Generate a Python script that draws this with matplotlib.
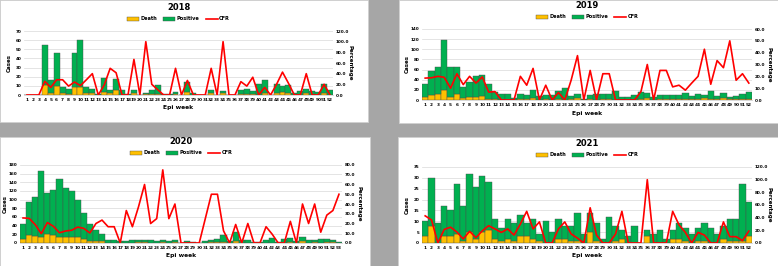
import matplotlib.pyplot as plt
from matplotlib.patches import Rectangle, Patch
from matplotlib.lines import Line2D
import numpy as np

# weekly counts (death, positive) and CFR (%)
death_2018 = [0, 0, 0, 11, 2, 10, 2, 1, 9, 9, 2, 2, 0, 3, 2, 5, 0, 0, 2, 0,
              1, 1, 1, 0, 0, 1, 0, 3, 0, 0, 0, 2, 0, 2, 0, 0, 1, 1, 1, 0,
              2, 0, 2, 3, 2, 0, 0, 2, 0, 0, 2, 0]
positive_2018 = [0, 0, 0, 44, 14, 36, 7, 6, 37, 51, 7, 5, 1, 16, 4, 12, 5, 1, 3, 0,
                 1, 5, 10, 1, 1, 2, 0, 11, 2, 0, 0, 4, 0, 2, 0, 0, 4, 6, 3, 12,
                 14, 0, 10, 7, 9, 2, 4, 5, 4, 3, 10, 5]
cfr_2018 = [0, 0, 0, 25.6, 14.3, 28.6, 28.6, 16.7, 24.3, 17.6, 28.6, 40, 0, 18.8, 50, 41.7, 0, 0, 66.7, 0,
            100, 20, 10, 0, 0, 50, 0, 27.3, 0, 0, 0, 50, 0, 100, 0, 0, 25, 16.7, 33.3, 0,
            14.3, 0, 20, 42.9, 22.2, 0, 0, 40, 0, 0, 20, 0]

death_2019 = [5, 9, 11, 19, 6, 12, 3, 6, 6, 8, 2, 1, 0, 0, 0, 2, 1, 4, 0, 1,
              0, 1, 0, 1, 3, 0, 2, 0, 2, 2, 0, 0, 0, 0, 1, 3, 0, 2, 2, 1,
              1, 1, 1, 2, 3, 2, 2, 3, 2, 1, 2, 2]
positive_2019 = [27, 48, 55, 99, 60, 54, 23, 30, 42, 41, 30, 14, 12, 12, 3, 10, 8, 15, 7, 8,
                 9, 16, 23, 6, 8, 1, 8, 11, 9, 9, 18, 6, 6, 10, 14, 10, 6, 8, 8, 9,
                 8, 12, 7, 10, 7, 15, 6, 11, 4, 6, 9, 14]
cfr_2019 = [18.5, 18.8, 20, 19.2, 10, 22.2, 13, 20, 14.3, 19.5, 6.7, 7.1, 0, 0, 0, 20, 12.5, 26.7, 0, 12.5,
            0, 6.3, 0, 16.7, 37.5, 0, 25, 0, 22.2, 22.2, 0, 0, 0, 0, 7.1, 30, 0, 25, 25, 11.1,
            12.5, 8.3, 14.3, 20, 42.9, 13.3, 33.3, 27.3, 50, 16.7, 22.2, 14.3]

death_2020 = [9, 19, 17, 13, 20, 18, 14, 14, 14, 14, 9, 4, 5, 4, 1, 1, 0, 1, 1, 2,
              3, 1, 1, 3, 1, 2, 0, 0, 0, 0, 1, 2, 3, 2, 0, 4, 0, 1, 0, 0,
              1, 1, 0, 0, 2, 0, 4, 1, 2, 1, 2, 2, 1]
positive_2020 = [35, 75, 90, 153, 95, 105, 133, 114, 107, 86, 60, 39, 25, 17, 6, 6, 5, 3, 6, 5,
                 5, 5, 4, 4, 4, 5, 1, 5, 2, 1, 4, 4, 6, 16, 5, 21, 8, 5, 3, 2,
                 6, 11, 3, 9, 9, 5, 10, 5, 5, 9, 7, 6, 2]
cfr_2020 = [25.7, 25.3, 18.9, 9.6, 21, 17.1, 10.5, 12.3, 13.1, 16.3, 15, 10.3, 20, 23.5, 16.7, 16.7, 0, 33.3, 16.7, 37,
            60, 20, 25, 75, 25, 40, 0, 0, 0, 0, 25, 50, 50, 12.5, 0, 19, 0, 20, 0, 0,
            16.7, 9.1, 0, 0, 22.2, 0, 40, 20, 40, 11.1, 28.6, 33.3, 50]

death_2021 = [3, 8, 0, 3, 3, 4, 1, 5, 2, 5, 6, 2, 1, 2, 1, 3, 3, 2, 1, 0,
              0, 2, 2, 1, 1, 0, 5, 1, 0, 0, 1, 2, 0, 0, 0, 3, 0, 0, 0, 2,
              2, 1, 0, 1, 1, 0, 0, 2, 1, 1, 1, 3]
positive_2021 = [7, 22, 9, 14, 12, 23, 16, 27, 24, 26, 22, 9, 6, 9, 8, 10, 6, 9, 3, 10,
                 5, 9, 6, 7, 13, 4, 9, 8, 2, 12, 7, 4, 3, 8, 0, 3, 4, 6, 2, 4,
                 7, 6, 4, 6, 8, 7, 4, 6, 10, 10, 26, 16]
cfr_2021 = [42.9, 36.4, 0, 21.4, 25, 17.4, 6.3, 18.5, 8.3, 19.2, 27.3, 22.2, 16.7, 22.2, 12.5, 30, 50, 22.2, 33.3, 0,
            0, 22.2, 33.3, 14.3, 7.7, 0, 55.6, 12.5, 0, 0, 14.3, 50, 0, 0, 0, 100, 0, 0, 0, 50,
            28.6, 16.7, 0, 16.7, 12.5, 0, 0, 33.3, 10, 10, 3.8, 18.8]

YELLOW = "#FFC000"
GREEN = "#00B050"
RED = "#FF0000"
EDGE = "#4d4d4d"
GRID = "#d9d9d9"

plt.rcParams["font.family"] = "DejaVu Sans"
plt.rcParams["font.weight"] = "bold"

W, H = 778, 266
fig = plt.figure(figsize=(W / 100, H / 100), dpi=100, facecolor="#a6a6a6")


def draw_panel(card, box, title, death, positive, cfr, ymax, ystep, rmax, rstep):
    # card = white background (x0, y0, x1, y1) and box = plot area, both in pixels
    cx0, cy0, cx1, cy1 = card
    fig.add_artist(Rectangle((cx0 / W, 1 - cy1 / H), (cx1 - cx0) / W, (cy1 - cy0) / H,
                             transform=fig.transFigure, facecolor="white",
                             edgecolor="#d0d0d0", lw=0.6, zorder=-5))
    l, t, r, b = box
    ax = fig.add_axes([l / W, 1 - b / H, (r - l) / W, (b - t) / H])
    ax.set_facecolor("none")
    weeks = np.arange(1, len(death) + 1)
    ax.bar(weeks, death, width=1.0, color=YELLOW, edgecolor=EDGE, linewidth=0.3)
    ax.bar(weeks, positive, bottom=death, width=1.0, color=GREEN, edgecolor=EDGE, linewidth=0.3)
    ax.set_xlim(0.5, len(death) + 0.5)
    ax.set_ylim(0, ymax)
    ax.set_yticks(np.arange(0, ymax + 1, ystep))
    ax.set_xticks(weeks)
    ax.set_xticklabels([str(w) for w in weeks])
    ax.yaxis.grid(True, color=GRID, lw=0.5)
    ax.set_axisbelow(True)
    ax.tick_params(axis="y", length=0, labelsize=3.0, pad=2)
    ax.tick_params(axis="x", length=0, labelsize=3.1, pad=2.5)

    ax2 = ax.twinx()
    ax2.plot(weeks, cfr, color=RED, lw=1.2)
    ax2.set_ylim(0, rmax)
    ax2.set_yticks(np.arange(0, rmax + 0.1, rstep))
    ax2.set_yticklabels(["%.1f" % v for v in np.arange(0, rmax + 0.1, rstep)])
    ax2.tick_params(length=0, labelsize=3.0, pad=2)

    for a in (ax, ax2):
        for s in ("left", "right", "top"):
            a.spines[s].set_visible(False)
        a.spines["bottom"].set_color(GRID)
        a.spines["bottom"].set_linewidth(0.6)

    mid = (l + r) / 2
    fig.text(mid / W, 1 - (t - 24) / H, title, ha="center", va="center", fontsize=6)
    fig.text(mid / W, 1 - (b + 13) / H, "Epi week", ha="center", va="center", fontsize=4.3)
    fig.text((l - 15) / W, 1 - (t + b) / 2 / H, "Cases", ha="center", va="center",
             rotation=90, fontsize=4.0)
    fig.text((r + 17) / W, 1 - (t + b) / 2 / H, "Percentage", ha="center", va="center",
             rotation=270, fontsize=4.0)

    handles = [Patch(facecolor=YELLOW, edgecolor=EDGE, lw=0.3),
               Patch(facecolor=GREEN, edgecolor=EDGE, lw=0.3),
               Line2D([], [], color=RED, lw=1.2)]
    fig.legend(handles, ["Death", "Positive", "CFR"], loc="center",
               bbox_to_anchor=(mid / W, 1 - (t - 12) / H), ncol=3, frameon=False,
               fontsize=3.6, handlelength=2.4, handleheight=0.8, handletextpad=0.3,
               columnspacing=1.2, borderpad=0)
    return ax


draw_panel((0, 0, 368, 122), (24, 31, 333, 95), "2018",
           death_2018, positive_2018, cfr_2018, 70, 10, 120, 20)
draw_panel((399, 0, 778, 123), (422, 29, 752, 100), "2019",
           death_2019, positive_2019, cfr_2019, 140, 20, 60, 10)
draw_panel((0, 137, 370, 266), (20, 165, 342, 243), "2020",
           death_2020, positive_2020, cfr_2020, 180, 20, 80, 10)
draw_panel((398, 137, 778, 266), (422, 167, 752, 243), "2021",
           death_2021, positive_2021, cfr_2021, 35, 5, 120, 20)

fig.savefig("out.png", dpi=100, facecolor=fig.get_facecolor())
